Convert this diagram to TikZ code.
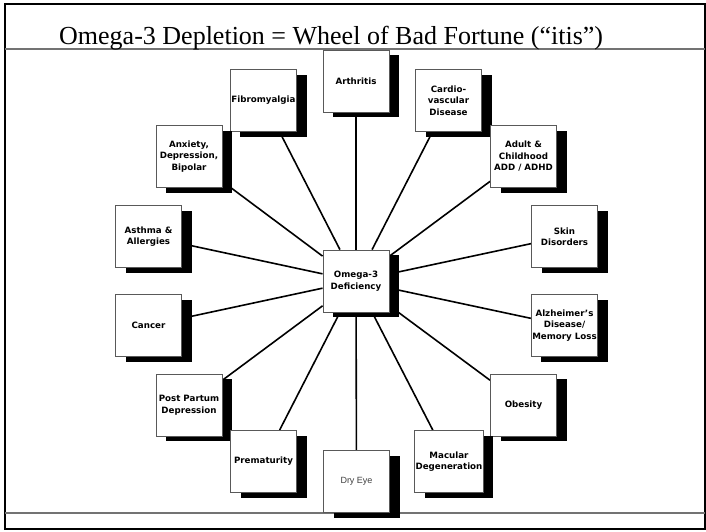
\documentclass[tikz,border=0pt]{standalone}
\usepackage{fontspec}
\usetikzlibrary{shadows,backgrounds}
\newfontfamily\titlefont{Liberation Serif}
\newfontfamily\boxfont{DejaVu Sans}
\newfontfamily\plainfont{Liberation Sans}

\tikzset{
	itis/.style = {draw = black!65, line width = 0.9pt, fill = white,
		minimum width = 66pt, minimum height = 62pt, inner sep = 1pt,
		align = center, text = black,
		font = \boxfont\bfseries\fontsize{8.7}{11.5}\selectfont,
		drop shadow = {shadow xshift = 10pt, shadow yshift = -5pt,
			fill = black, opacity = 1}},
	spoke/.style = {line width = 1.6pt, black}
}

\begin{document}
\begin{tikzpicture}[x = 1pt, y = -1pt]
			\useasboundingbox (0,0) rectangle (706,531);
			
			% Frame
			\draw[line width = 2pt] (5,4) rectangle (705,529);
			\draw[line width = 1.5pt, black!55] (5,49) -- (705,49);
			\draw[line width = 1.5pt, black!55] (5,513) -- (705,513);
			\node[anchor = base west, inner sep = 0pt,
				font = \titlefont\fontsize{26}{30}\selectfont] (title) at (59,44)
				{Omega-3 Depletion = Wheel of Bad Fortune (“itis”)};
			
			% Hub
			\node[itis] (cdef) at (356,281) {Omega-3\\Deficiency};
			
			% Wheel, top half
			\node[itis] (carth) at (356,81) {Arthritis};
			\node[itis] (cfib) at (263.5,100.5) {Fibromyalgia};
			\node[itis] (ccard) at (448.5,100.5) {Cardio-\\vascular\\Disease};
			\node[itis] (canx) at (189,156.5) {Anxiety,\\Depression,\\Bipolar};
			\node[itis] (cadd) at (523.5,156.5) {Adult \&\\Childhood\\ADD / ADHD};
			\node[itis] (casth) at (148.5,236.5) {Asthma \&\\Allergies};
			\node[itis] (cskin) at (564.5,236.5) {Skin\\Disorders};
			
			% Wheel, bottom half
			\node[itis] (ccanc) at (148.5,325.5) {Cancer};
			\node[itis] (calz) at (564.5,325.5) {Alzheimer’s\\Disease/\\Memory Loss};
			\node[itis] (cpost) at (189,405) {Post Partum\\Depression};
			\node[itis] (cobes) at (523.5,405) {Obesity};
			\node[itis] (cprem) at (263.5,461.5) {Prematurity};
			\node[itis] (cmac) at (449,461.5) {Macular\\Degeneration};
			\node[itis, font = \plainfont\fontsize{9}{11}\selectfont, text = black!75]
				(cdry) at (356.5,481.5) {Dry Eye};
			
			% Spokes
			\begin{scope}[on background layer]
				\foreach \c in {carth,cfib,ccard,canx,cadd,casth,cskin,
					ccanc,calz,cpost,cobes,cprem,cmac,cdry}
					\draw[spoke] (cdef) -- (\c);
			\end{scope}
		\end{tikzpicture}
\end{document}
